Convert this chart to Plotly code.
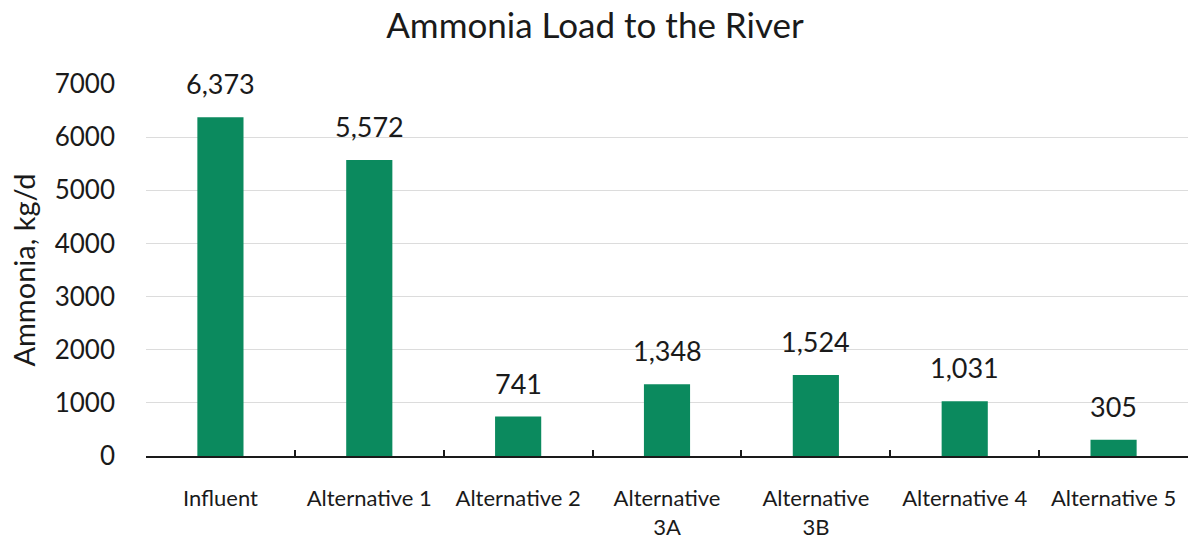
import plotly.graph_objects as go

categories = ["Influent", "Alternative 1", "Alternative 2", "Alternative<br>3A",
              "Alternative<br>3B", "Alternative 4", "Alternative 5"]
values = [6373, 5572, 741, 1348, 1524, 1031, 305]
labels = ["6,373", "5,572", "741", "1,348", "1,524", "1,031", "305"]
y_ticks = [0, 1000, 2000, 3000, 4000, 5000, 6000, 7000]

FONT = "Lato"
GREEN = "#0b8a5e"
TXT = "#1a1a1a"

fig = go.Figure()
fig.add_trace(go.Bar(
    x=categories, y=values, marker_color=GREEN, marker_line_width=0,
    width=0.31, hoverinfo="skip",
))

for c, v, t in zip(categories, values, labels):
    fig.add_annotation(x=c, y=v, text=t, showarrow=False, yanchor="bottom",
                       yshift=15, font=dict(family=FONT, size=27, color=TXT))

fig.update_layout(
    width=1190, height=541,
    margin=dict(l=146, r=2, t=84, b=85),
    paper_bgcolor="white", plot_bgcolor="white",
    showlegend=False,
    title=dict(text="Ammonia Load to the River", x=0.5, xanchor="center",
               y=0.952, yanchor="middle",
               font=dict(family=FONT, size=35, color=TXT)),
    font=dict(family=FONT, color=TXT),
)

fig.update_xaxes(
    showline=True, linecolor=TXT, linewidth=1.5,
    ticks="inside", tickson="boundaries", ticklen=6, tickcolor=TXT, tickwidth=1.5,
    tickfont=dict(family=FONT, size=22, color=TXT),
    ticklabelstandoff=22,
    showgrid=False,
)

fig.update_yaxes(
    range=[0, 7000], tickvals=y_ticks, ticktext=[str(v) for v in y_ticks],
    showgrid=True, gridcolor="#dcdcdc", gridwidth=1.2,
    zeroline=False, showline=False,
    tickfont=dict(family=FONT, size=26, color=TXT),
    ticklabelstandoff=30,
    title=dict(text="Ammonia, kg/d", font=dict(family=FONT, size=29, color=TXT),
               standoff=10),
)

fig.write_html("out.html")
